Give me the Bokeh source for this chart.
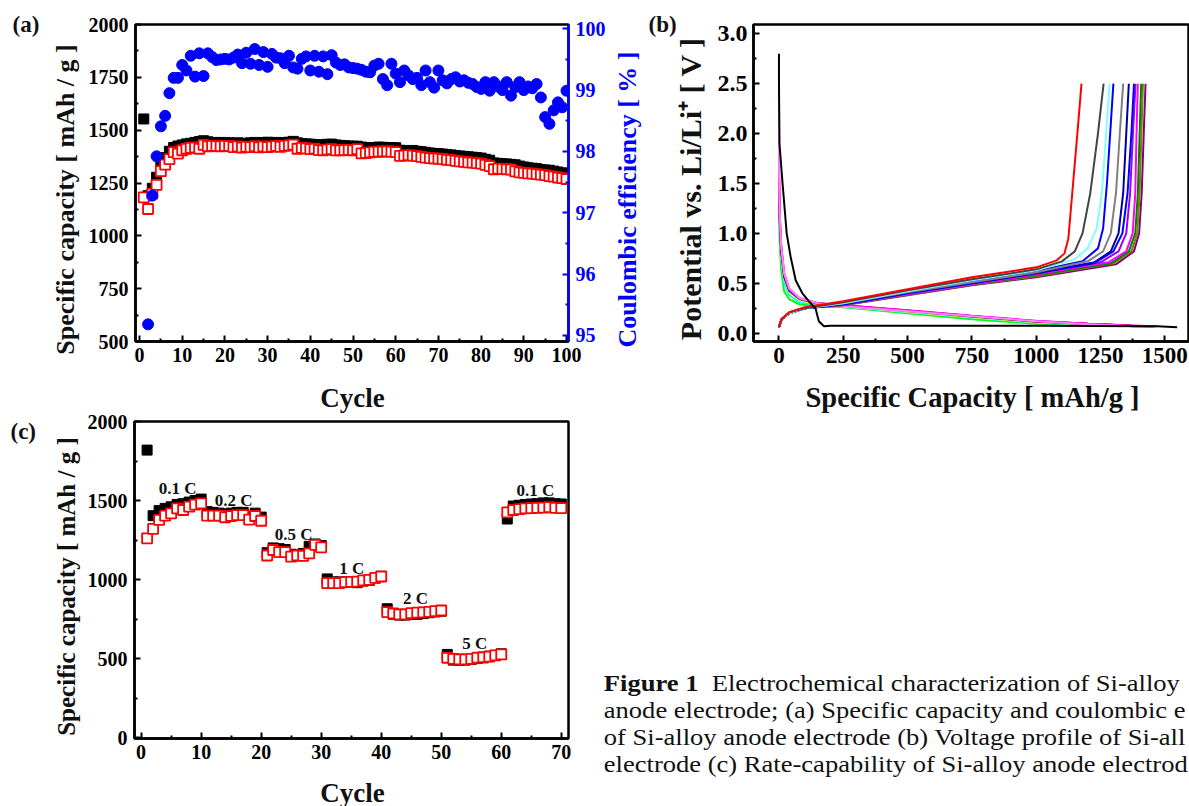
import math
from bokeh.plotting import figure
from bokeh.models import Range1d, LinearAxis, FixedTicker, NumeralTickFormatter, Div, ColumnDataSource, GridBox
from bokeh.layouts import row, column
from bokeh.embed import file_html
from bokeh.resources import INLINE
from bokeh.core.properties import value

SERIF = "Liberation Serif"

# ---------------- Panel (a) data ----------------
cycles_a = list(range(1, 101))
discharge_a = [1553, 1190, 1225, 1277, 1330, 1370, 1400, 1418, 1425, 1430,
               1435, 1438, 1442, 1446, 1450, 1445, 1442, 1440, 1442, 1440,
               1440, 1438, 1440, 1438, 1437, 1440, 1442, 1440, 1441, 1443,
               1440, 1442, 1440, 1441, 1443, 1447, 1440, 1436, 1435, 1434,
               1432, 1430, 1431, 1433, 1434, 1430, 1428, 1426, 1425, 1424,
               1424, 1420, 1418, 1416, 1417, 1420, 1419, 1418, 1418, 1417,
               1405, 1402, 1403, 1404, 1400, 1398, 1395, 1392, 1390, 1389,
               1387, 1385, 1383, 1380, 1378, 1376, 1374, 1372, 1370, 1368,
               1362, 1358, 1345, 1343, 1341, 1340, 1338, 1336, 1330, 1326,
               1322, 1320, 1318, 1314, 1312, 1310, 1306, 1302, 1298, 1293]
charge_a = [1182, 1127, 1200, 1241, 1306, 1337, 1363, 1396, 1389, 1405,
            1412, 1416, 1418, 1412, 1430, 1424, 1426, 1425, 1424, 1426,
            1425, 1420, 1423, 1418, 1421, 1420, 1424, 1419, 1423, 1420,
            1422, 1425, 1421, 1426, 1428, 1432, 1412, 1416, 1414, 1410,
            1412, 1406, 1405, 1408, 1410, 1404, 1405, 1406, 1407, 1405,
            1410, 1390, 1392, 1395, 1397, 1398, 1399, 1400, 1398, 1396,
            1378, 1380, 1382, 1380, 1377, 1374, 1370, 1368, 1366, 1365,
            1363, 1360, 1358, 1355, 1352, 1350, 1348, 1346, 1344, 1342,
            1336, 1330, 1315, 1318, 1317, 1315, 1313, 1305, 1300, 1298,
            1296, 1294, 1292, 1290, 1287, 1283, 1280, 1276, 1273, 1269]
ce_cycles = list(range(2, 101))
ce_a = [95.18, 97.28, 97.92, 98.41, 98.58, 98.95, 99.20, 99.20, 99.41,
        99.32, 99.56, 99.22, 99.60, 99.23, 99.60, 99.54, 99.49, 99.50, 99.51,
        99.50, 99.53, 99.58, 99.44, 99.61, 99.43, 99.67, 99.41, 99.62, 99.38,
        99.59, 99.53, 99.52, 99.44, 99.56, 99.37, 99.35, 99.51, 99.55, 99.32,
        99.56, 99.30, 99.55, 99.26, 99.57, 99.45, 99.41, 99.42, 99.37, 99.36,
        99.35, 99.33, 99.30, 99.29, 99.40, 99.43, 99.18, 99.08, 99.43, 99.27,
        99.13, 99.32, 99.24, 99.18, 99.20, 99.08, 99.32, 99.13, 99.04, 99.32,
        99.16, 99.11, 99.18, 99.21, 99.14, 99.16, 99.12, 99.10, 99.05, 99.02,
        99.13, 98.99, 99.13, 99.06, 99.00, 99.13, 98.91, 99.05, 99.13, 99.00,
        99.06, 99.03, 99.10, 98.88, 98.56, 98.45, 98.67, 98.80, 98.72, 98.99]
a_x_ticks = list(range(0, 101, 10))
a_x_minor = list(range(5, 100, 10))
a_y_ticks = list(range(500, 2001, 250))
a_y_minor = list(range(625, 2000, 250))
a_y2_ticks = [95, 96, 97, 98, 99, 100]
a_y2_minor = [95.5, 96.5, 97.5, 98.5, 99.5]

# ---------------- Panel (b) data ----------------
b_x_ticks = [0, 250, 500, 750, 1000, 1250, 1500]
b_x_minor = [125, 375, 625, 875, 1125, 1375]
b_y_ticks = [0.0, 0.5, 1.0, 1.5, 2.0, 2.5, 3.0]
b_y_minor = [0.25, 0.75, 1.25, 1.75, 2.25, 2.75]

dis_x = [0, 3, 8, 20, 40, 80, 150, 250, 500, 750, 1000, 1200, 1350]
discharge_curves = [
    ("#00ff00", [1.30, 0.90, 0.65, 0.42, 0.34, 0.29, 0.27, 0.26, 0.20, 0.14, 0.095, 0.080, 0.072], 1320, 0.070),
    ("#00ffff", [1.40, 1.00, 0.75, 0.50, 0.38, 0.31, 0.28, 0.265, 0.21, 0.155, 0.105, 0.085, 0.072], 1420, 0.065),
    ("#ffff00", [1.50, 1.10, 0.80, 0.55, 0.41, 0.33, 0.29, 0.27, 0.215, 0.16, 0.11, 0.090, 0.075], 1440, 0.068),
    ("#ff8000", [1.60, 1.15, 0.85, 0.58, 0.43, 0.34, 0.295, 0.275, 0.225, 0.17, 0.12, 0.095, 0.078], 1460, 0.070),
    ("#808080", [1.50, 1.10, 0.82, 0.56, 0.42, 0.34, 0.30, 0.275, 0.22, 0.165, 0.115, 0.092, 0.076], 1400, 0.068),
    ("#0000a0", [1.55, 1.12, 0.84, 0.57, 0.43, 0.345, 0.30, 0.278, 0.225, 0.17, 0.118, 0.094, 0.078], 1455, 0.066),
    ("#ff0000", [1.65, 1.20, 0.88, 0.60, 0.44, 0.35, 0.30, 0.28, 0.228, 0.172, 0.12, 0.095, 0.079], 1380, 0.070),
    ("#ff00ff", [1.70, 1.20, 0.90, 0.60, 0.44, 0.35, 0.30, 0.28, 0.23, 0.175, 0.125, 0.095, 0.078], 1470, 0.070),
    ("#ff80ff", [1.70, 1.20, 0.90, 0.60, 0.45, 0.35, 0.30, 0.27, 0.22, 0.17, 0.12, 0.090, 0.072], 1460, 0.065),
]
pink_top_x = [0, 0]
pink_top_y = [2.5, 1.7]

first_dis_x = [0, 0, 2, 13, 30, 45, 65, 91, 123, 142, 155, 175, 200, 1000, 1470, 1548]
first_dis_y = [2.8, 2.5, 1.9, 1.53, 1.0, 0.77, 0.53, 0.40, 0.30, 0.25, 0.12, 0.07, 0.075, 0.075, 0.07, 0.06]

chg_start_x = [0, 10, 40, 100, 250, 500, 750, 1000]
charge_curves = [
    ("#0000ff", [0.06, 0.14, 0.20, 0.25, 0.30, 0.41, 0.52, 0.62], [1180, 1240, 1260, 1275, 1290, 1300], [0.72, 0.85, 1.05, 1.50, 2.10, 2.50]),
    ("#800080", [0.06, 0.14, 0.20, 0.25, 0.28, 0.38, 0.48, 0.56], [1310, 1380, 1400, 1410, 1418, 1425], [0.69, 0.82, 1.00, 1.40, 2.00, 2.50]),
    ("#808000", [0.06, 0.14, 0.20, 0.25, 0.285, 0.385, 0.485, 0.57], [1300, 1370, 1393, 1402, 1409, 1415], [0.70, 0.82, 1.00, 1.40, 2.00, 2.50]),
    ("#008000", [0.06, 0.14, 0.20, 0.25, 0.29, 0.39, 0.49, 0.58], [1290, 1360, 1385, 1395, 1402, 1408], [0.70, 0.82, 1.00, 1.40, 2.00, 2.50]),
    ("#ff00ff", [0.06, 0.14, 0.20, 0.25, 0.29, 0.39, 0.49, 0.59], [1280, 1350, 1375, 1385, 1390, 1395], [0.71, 0.82, 1.00, 1.40, 2.00, 2.50]),
    ("#9900ff", [0.06, 0.14, 0.20, 0.25, 0.29, 0.40, 0.50, 0.60], [1250, 1320, 1350, 1365, 1376, 1386], [0.71, 0.82, 1.00, 1.40, 2.00, 2.50]),
    ("#0000a0", [0.06, 0.14, 0.20, 0.25, 0.29, 0.40, 0.50, 0.60], [1220, 1290, 1320, 1338, 1350, 1360], [0.70, 0.82, 1.00, 1.40, 2.00, 2.50]),
    ("#0000ff", [0.06, 0.14, 0.20, 0.25, 0.29, 0.40, 0.50, 0.61], [1230, 1300, 1335, 1355, 1370, 1380], [0.71, 0.82, 1.00, 1.40, 2.00, 2.50]),
    ("#808080", [0.06, 0.14, 0.20, 0.25, 0.30, 0.41, 0.51, 0.61], [1200, 1260, 1290, 1310, 1325, 1338], [0.72, 0.82, 1.00, 1.40, 2.00, 2.50]),
    ("#80ffff", [0.06, 0.14, 0.20, 0.25, 0.30, 0.42, 0.53, 0.63], [1150, 1200, 1235, 1255, 1272, 1285], [0.74, 0.85, 1.05, 1.40, 2.00, 2.50]),
    ("#444444", [0.06, 0.14, 0.21, 0.25, 0.31, 0.43, 0.54, 0.64], [1100, 1150, 1180, 1210, 1240, 1262], [0.72, 0.82, 1.00, 1.40, 2.00, 2.50]),
    ("#ff0000", [0.06, 0.14, 0.21, 0.26, 0.32, 0.44, 0.56, 0.66], [1080, 1110, 1125, 1140, 1160, 1176], [0.73, 0.80, 0.95, 1.40, 2.00, 2.50]),
]

# ---------------- Panel (c) data ----------------
cycles_c = list(range(1, 71))
discharge_c = [1819, 1404, 1436, 1450, 1460, 1475, 1480, 1490, 1500, 1509,
               1430, 1425, 1420, 1415, 1420, 1425, 1425, 1400, 1420, 1395,
               1170, 1200, 1195, 1190, 1160, 1155, 1165, 1210, 1225, 1215,
               1004, 985, 985, 985, 985, 980, 990, 995, 1010, 1020,
               815, 780, 775, 775, 780, 780, 785, 790, 795, 800,
               526, 490, 490, 490, 495, 500, 505, 515, 520, 530,
               1383, 1465, 1470, 1475, 1478, 1480, 1485, 1485, 1480, 1478]
charge_c = [1261, 1320, 1377, 1404, 1419, 1450, 1440, 1461, 1474, 1482,
            1404, 1404, 1404, 1394, 1402, 1408, 1408, 1379, 1402, 1372,
            1152, 1187, 1173, 1173, 1145, 1152, 1150, 1165, 1219, 1204,
            977, 977, 977, 983, 985, 987, 994, 998, 1010, 1019,
            794, 785, 779, 780, 787, 790, 792, 795, 800, 804,
            505, 498, 495, 495, 498, 505, 508, 512, 520, 526,
            1425, 1440, 1445, 1450, 1452, 1453, 1455, 1458, 1453, 1452]
rate_text = ["0.1 C", "0.2 C", "0.5 C", "1 C", "2 C", "5 C", "0.1 C"]
rate_x = [6.1, 15.4, 25.4, 35.1, 45.7, 55.6, 65.7]
rate_y = [1579, 1503, 1284, 1067, 878, 594, 1562]
c_x_ticks = list(range(0, 71, 10))
c_x_minor = list(range(5, 70, 10))
c_y_ticks = [0, 500, 1000, 1500, 2000]
c_y_minor = [250, 750, 1250, 1750]

caption_lines = [
    "<b>Figure 1</b>&nbsp; Electrochemical characterization of Si-alloy",
    "anode electrode; (a) Specific capacity and coulombic e",
    "of Si-alloy anode electrode (b) Voltage profile of Si-all",
    "electrode (c) Rate-capability of Si-alloy anode electrod",
]

# Texts placed on the page overlay (panel letters and axis titles)
# (text, x, y, angle, size, color, align)
overlay_items = [
    ("(a)", 12, 24, 0, 23, "#111111", "left"),
    ("(b)", 648, 24, 0, 23, "#111111", "left"),
    ("(c)", 10, 431, 0, 23, "#111111", "left"),
    ("Specific capacity [ mAh / g ]", 65, 199, math.pi / 2, 26, "#111111", "center"),
    ("Coulombic efficiency [ % ]", 627, 199, math.pi / 2, 26, "#0000ff", "center"),
    ("Cycle", 352, 397, 0, 27, "#111111", "center"),
    ("Potential vs. Li/Li\u207a [ V ]", 690, 188, math.pi / 2, 30, "#111111", "center"),
    ("Specific Capacity [ mAh/g ]", 972, 397, 0, 28.5, "#111111", "center"),
    ("Specific capacity [ mAh / g ]", 66, 586, math.pi / 2, 25, "#111111", "center"),
    ("Cycle", 352, 792, 0, 27, "#111111", "center"),
]


def style_axis(ax, size, color="black"):
    ax.major_label_text_font = SERIF
    ax.major_label_text_font_style = "bold"
    ax.major_label_text_font_size = f"{size}px"
    ax.major_label_text_color = color
    ax.axis_line_width = 2.5
    ax.axis_line_color = color
    ax.major_tick_line_color = color
    ax.minor_tick_line_color = color
    ax.major_tick_line_width = 2
    ax.minor_tick_line_width = 2
    ax.major_tick_in = 6
    ax.major_tick_out = 0
    ax.minor_tick_in = 3
    ax.minor_tick_out = 0


def base_fig(w, h, xr, yr, bl, br, bt, bb):
    p = figure(width=w, height=h, x_range=Range1d(*xr), y_range=Range1d(*yr),
               output_backend="svg", toolbar_location=None,
               min_border_left=bl, min_border_right=br, min_border_top=bt, min_border_bottom=bb)
    p.xgrid.visible = False
    p.ygrid.visible = False
    p.outline_line_color = "black"
    p.outline_line_width = 2.5
    p.outline_line_alpha = 1
    p.background_fill_color = "white"
    p.border_fill_color = "white"
    return p


# ---------------- Figure (a) ----------------
pa = base_fig(642, 409, (-0.94, 100.47), (500, 2000), 135, 74, 24, 68)
pa.extra_y_ranges = {"ce": Range1d(94.9, 100.07)}
ax_r = LinearAxis(y_range_name="ce")
pa.add_layout(ax_r, "right")
pa.xaxis.ticker = FixedTicker(ticks=a_x_ticks, minor_ticks=a_x_minor)
pa.yaxis[0].ticker = FixedTicker(ticks=a_y_ticks, minor_ticks=a_y_minor)
ax_r.ticker = FixedTicker(ticks=a_y2_ticks, minor_ticks=a_y2_minor)
style_axis(pa.xaxis[0], 20)
style_axis(pa.yaxis[0], 20)
style_axis(ax_r, 20, color="#0000ff")
pa.xaxis.major_label_standoff = 6
pa.yaxis[0].major_label_standoff = 7
ax_r.major_label_standoff = 7

src_a = ColumnDataSource(dict(c=cycles_a, d=discharge_a, q=charge_a))
pa.scatter("c", "d", source=src_a, marker="square", size=10, fill_color="black", line_color="black")
pa.scatter("c", "q", source=src_a, marker="square", size=10, fill_color="white", line_color="#ff0000", line_width=1.8)
src_ce = ColumnDataSource(dict(c=ce_cycles, e=ce_a))
pa.scatter("c", "e", source=src_ce, y_range_name="ce", marker="circle", size=11,
           fill_color="#0000ff", line_color="#0000ff")

# ---------------- Figure (b) ----------------
pb = base_fig(547, 409, (-99, 1592), (-0.083, 3.093), 111, 1, 24, 67)
pb.xaxis.ticker = FixedTicker(ticks=b_x_ticks, minor_ticks=b_x_minor)
pb.yaxis.ticker = FixedTicker(ticks=b_y_ticks, minor_ticks=b_y_minor)
pb.yaxis.formatter = NumeralTickFormatter(format="0.0")
style_axis(pb.xaxis[0], 23)
style_axis(pb.yaxis[0], 24)
pb.xaxis.major_label_standoff = 6
pb.yaxis.major_label_standoff = 6

for col, ys, xend, yend in discharge_curves:
    pb.line(dis_x + [xend], ys + [yend], line_color=col, line_width=2)
pb.line(pink_top_x, pink_top_y, line_color="#ff80ff", line_width=2)
for col, ys0, xs1, ys1 in charge_curves:
    pb.line(chg_start_x + xs1, ys0 + ys1, line_color=col, line_width=2)
pb.line(first_dis_x, first_dis_y, line_color="black", line_width=2)

# ---------------- Figure (c) ----------------
pc = base_fig(592, 397, (-1.1, 71.2), (-6, 2000), 134, 24, 12, 68)
pc.xaxis.ticker = FixedTicker(ticks=c_x_ticks, minor_ticks=c_x_minor)
pc.yaxis.ticker = FixedTicker(ticks=c_y_ticks, minor_ticks=c_y_minor)
style_axis(pc.xaxis[0], 20)
style_axis(pc.yaxis[0], 20)
pc.xaxis.major_label_standoff = 6
pc.yaxis.major_label_standoff = 7

src_c = ColumnDataSource(dict(c=cycles_c, d=discharge_c, q=charge_c))
pc.scatter("c", "d", source=src_c, marker="square", size=10, fill_color="black", line_color="black")
pc.scatter("c", "q", source=src_c, marker="square", size=10, fill_color="white", line_color="#ff0000", line_width=1.8)
src_r = ColumnDataSource(dict(x=rate_x, y=rate_y, t=rate_text))
pc.text("x", "y", text="t", source=src_r, text_font=value(SERIF), text_font_style="bold",
        text_font_size="17px", text_align="center", text_baseline="middle", text_color="#111111")

# ---------------- Caption ----------------
cap_html = ("<div style=\"font-family:'Liberation Serif',serif;font-size:23.5px;line-height:27px;"
            "white-space:nowrap;padding-top:256px;padding-left:6px;color:#111;"
            "transform:scaleX(1.13);transform-origin:left top\">"
            + "<br>".join(caption_lines) + "</div>")
cap = Div(text=cap_html, width=597, height=397)

main = column(row(pa, pb), row(pc, cap))

# ---------------- Transparent overlay for panel letters and axis titles ----------------
ov = figure(width=1189, height=806, x_range=Range1d(0, 1189), y_range=Range1d(806, 0),
            output_backend="svg", toolbar_location=None, x_axis_type=None, y_axis_type=None,
            min_border=0)
ov.xgrid.visible = False
ov.ygrid.visible = False
ov.outline_line_color = None
ov.background_fill_alpha = 0
ov.border_fill_alpha = 0
for t, x, y, ang, fs, colr, al in overlay_items:
    ov.text(x=[x], y=[y], text=[t], angle=ang, text_font=value(SERIF), text_font_style="bold",
            text_font_size=f"{fs}px", text_color=colr, text_align=al, text_baseline="middle")

layout = GridBox(children=[(main, 0, 0), (ov, 0, 0)])

with open("out.html", "w") as f:
    f.write(file_html(layout, INLINE))
